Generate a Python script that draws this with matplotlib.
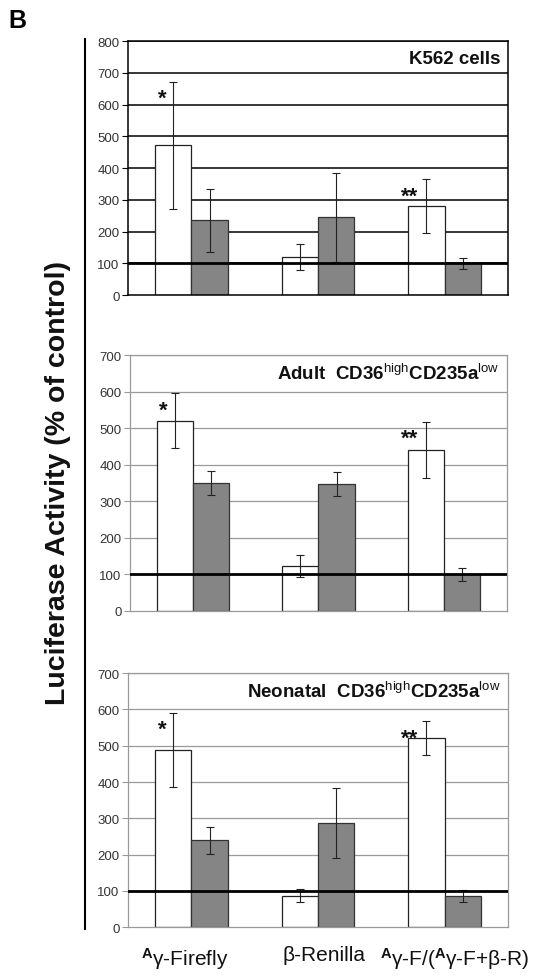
import numpy as np
import matplotlib
matplotlib.use("Agg")
import matplotlib.pyplot as plt
from matplotlib.lines import Line2D
from matplotlib.transforms import ScaledTranslation

plt.rcParams['font.family'] = ['Liberation Sans', 'DejaVu Sans']
plt.rcParams['mathtext.fontset'] = 'custom'
plt.rcParams['mathtext.rm'] = 'Liberation Sans'
plt.rcParams['mathtext.bf'] = 'Liberation Sans:bold'
plt.rcParams['mathtext.it'] = 'Liberation Sans:italic'

# data
groups = [r"$^{\mathbf{A}}$γ-Firefly", "β-Renilla",
          r"$^{\mathbf{A}}$γ-F/($^{\mathbf{A}}$γ-F+β-R)"]

k562_white = [472, 120, 280]
k562_white_err = [200, 40, 85]
k562_gray = [235, 245, 100]
k562_gray_err = [100, 140, 17]

adult_white = [520, 122, 440]
adult_white_err = [75, 30, 77]
adult_gray = [350, 347, 100]
adult_gray_err = [33, 33, 18]

neo_white = [488, 87, 520]
neo_white_err = [103, 18, 47]
neo_gray = [240, 287, 87]
neo_gray_err = [37, 96, 17]

stars = ["*", "", "**"]

titles = ["K562 cells",
          r"Adult  CD36$^{\mathrm{high}}$CD235a$^{\mathrm{low}}$",
          r"Neonatal  CD36$^{\mathrm{high}}$CD235a$^{\mathrm{low}}$"]

fig = plt.figure(figsize=(5.37, 9.78), dpi=100)

# [left, bottom, width, height] in figure fraction
rects = [[0.2384, 0.6973, 0.7076, 0.2597],
         [0.2420, 0.3745, 0.7020, 0.2614],
         [0.2384, 0.0508, 0.7076, 0.2600]]

panels = [(k562_white, k562_white_err, k562_gray, k562_gray_err, 800, 'black'),
          (adult_white, adult_white_err, adult_gray, adult_gray_err, 700, '#9a9a9a'),
          (neo_white, neo_white_err, neo_gray, neo_gray_err, 700, '#9a9a9a')]

x = np.arange(len(groups))
width = 0.288
gray_fill = '#858585'

for i, (w, we, g, ge, ymax, gridc) in enumerate(panels):
    ax = fig.add_axes(rects[i])
    ax.set_xlim(-0.5, 2.5)
    ax.set_ylim(0, ymax)
    ax.set_yticks(np.arange(0, ymax + 1, 100))
    for y in np.arange(100, ymax + 1, 100):
        ax.axhline(y, color=gridc, lw=1.1 if i == 0 else 0.9, zorder=0)

    ax.bar(x - width / 2, w, width, color='white', edgecolor='#222222',
           linewidth=0.9, zorder=2)
    ax.bar(x + width / 2, g, width, color=gray_fill, edgecolor='#333333',
           linewidth=0.9, zorder=2)
    ax.errorbar(x - width / 2, w, yerr=we, fmt='none', ecolor='#222222',
                elinewidth=0.8, capsize=3.2, capthick=0.8, zorder=3)
    ax.errorbar(x + width / 2, g, yerr=ge, fmt='none', ecolor='#222222',
                elinewidth=0.8, capsize=3.2, capthick=0.8, zorder=3)

    # control level
    ax.axhline(100, color='black', lw=2.0, zorder=4)

    for j, s in enumerate(stars):
        if s:
            ax.annotate(s, xy=(x[j] - width / 2, w[j] + we[j]),
                        xytext=(-8 if s == "*" else -12, -12),
                        textcoords='offset points', ha='center', va='center',
                        fontsize=16, fontweight='bold', color='#111111')

    ax.text(0.98, 0.93, titles[i], transform=ax.transAxes, ha='right',
            va='center', fontsize=13.5, fontweight='bold', color='#111111')

    for sp in ax.spines.values():
        sp.set_color(gridc)
        sp.set_linewidth(1.1 if i == 0 else 0.9)
    ax.tick_params(axis='y', length=4, width=0.8, color=gridc,
                   labelsize=9.5, labelcolor='#333333', pad=2)
    if i < 2:
        ax.set_xticks([])
    else:
        ax.set_xticks(x, groups)
        ax.tick_params(axis='x', length=0, labelsize=15, labelcolor='#111111',
                       pad=13)
        labs = ax.get_xticklabels()
        labs[0].set_transform(labs[0].get_transform() +
                              ScaledTranslation(-0.07, 0, fig.dpi_scale_trans))
        labs[1].set_transform(labs[1].get_transform() +
                              ScaledTranslation(0.06, 0, fig.dpi_scale_trans))
        labs[2].set_transform(labs[2].get_transform() +
                              ScaledTranslation(0.1, 0, fig.dpi_scale_trans))

# long separator line and shared label
fig.add_artist(Line2D([85 / 537, 85 / 537], [1 - 40 / 978, 1 - 930 / 978],
                      color='black', lw=1.5, transform=fig.transFigure))
fig.text(58 / 537, 1 - 483 / 978, "Luciferase Activity (% of control)",
         rotation=90, ha='center', va='center', fontsize=20.5,
         fontweight='bold', color='#111111')
fig.text(8 / 537, 1 - 21 / 978, "B", ha='left', va='center', fontsize=18,
         fontweight='bold')

fig.savefig("out.png", dpi=100)
